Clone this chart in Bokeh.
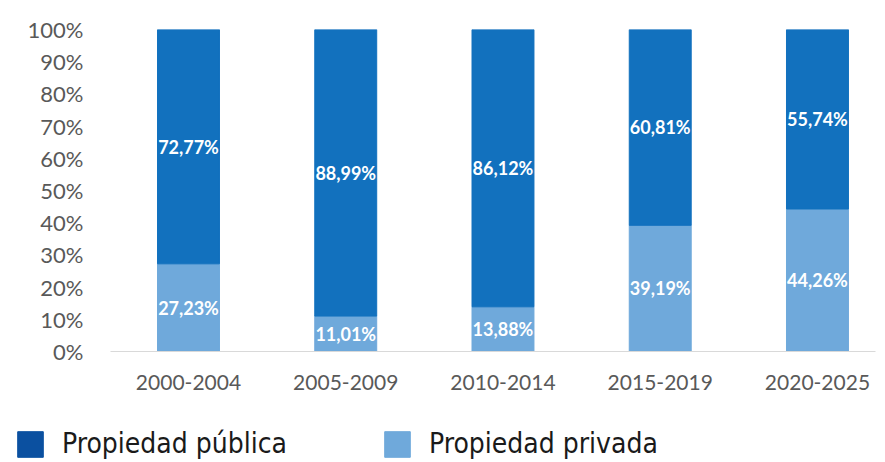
from bokeh.plotting import figure
from bokeh.layouts import column, row
from bokeh.models import ColumnDataSource, Range1d, FixedTicker, PrintfTickFormatter, Legend, LegendItem
from bokeh.core.properties import value
from bokeh.embed import file_html
from bokeh.resources import INLINE

categories = ["2000-2004", "2005-2009", "2010-2014", "2015-2019", "2020-2025"]
publica = [72.77, 88.99, 86.12, 60.81, 55.74]
privada = [27.23, 11.01, 13.88, 39.19, 44.26]
series_names = ["Propiedad pública", "Propiedad privada"]

C_PUB = "#1271BE"
C_PRIV = "#6FA9DB"
C_PUB_LEG = "#0B50A0"
FONT = "Lato"
LEG_FONT = "DejaVu Sans Condensed"

x = [i + 1 for i in range(len(categories))]
src = ColumnDataSource(dict(
    x=x,
    pub=publica,
    priv=privada,
    total=[a + b for a, b in zip(publica, privada)],
    pub_mid=[b + a / 2 for a, b in zip(publica, privada)],
    priv_mid=[b / 2 for b in privada],
    pub_lab=[f"{v:.2f}%".replace(".", ",") for v in publica],
    priv_lab=[f"{v:.2f}%".replace(".", ",") for v in privada],
))

W = 885
p = figure(width=W, height=410, output_backend="svg", toolbar_location=None,
           x_range=Range1d(0.504, 5.369), y_range=Range1d(0, 100),
           min_border_left=110, min_border_right=10, min_border_top=29, min_border_bottom=59)
p.outline_line_color = None
p.xgrid.grid_line_color = None
p.ygrid.grid_line_color = None

p.vbar(x="x", bottom=0, top="priv", width=0.394, color=C_PRIV, source=src)
p.vbar(x="x", bottom="priv", top="total", width=0.394, color=C_PUB, source=src)

p.text(x="x", y="pub_mid", text="pub_lab", source=src, text_color="white",
       text_font=value(FONT), text_font_style="bold", text_font_size="18px",
       text_align="center", text_baseline="middle")
p.text(x="x", y="priv_mid", text="priv_lab", source=src, text_color="white",
       text_font=value(FONT), text_font_style="bold", text_font_size="18px",
       text_align="center", text_baseline="middle")

# y axis
p.yaxis.ticker = FixedTicker(ticks=list(range(0, 101, 10)))
p.yaxis.formatter = PrintfTickFormatter(format="%d%%")
p.yaxis.axis_line_color = None
p.yaxis.major_tick_line_color = None
p.yaxis.minor_tick_line_color = None
p.yaxis.major_label_text_font = FONT
p.yaxis.major_label_text_font_size = "22px"
p.yaxis.major_label_text_color = "#595959"
p.yaxis.major_label_standoff = 21

# x axis
p.xaxis.ticker = FixedTicker(ticks=x)
p.xaxis.major_label_overrides = {i + 1: c for i, c in enumerate(categories)}
p.xaxis.axis_line_color = "#D9D9D9"
p.xaxis.axis_line_width = 1
p.xaxis.major_tick_line_color = None
p.xaxis.minor_tick_line_color = None
p.xaxis.major_label_text_font = FONT
p.xaxis.major_label_text_font_size = "21px"
p.xaxis.major_label_text_color = "#595959"
p.xaxis.major_label_standoff = 17

# legend figure
lf = figure(width=W, height=52, output_backend="svg", toolbar_location=None,
            x_range=Range1d(0, 1), y_range=Range1d(0, 1),
            x_axis_location=None, y_axis_location=None,
            min_border_left=0, min_border_right=0, min_border_top=0, min_border_bottom=0)
lf.outline_line_color = None
lf.xgrid.grid_line_color = None
lf.ygrid.grid_line_color = None
r1 = lf.vbar(x=[-5], top=[-5], width=0.1, color=C_PUB_LEG)
r2 = lf.vbar(x=[-5], top=[-5], width=0.1, color=C_PRIV)

for r, lab, xoff in [(r1, series_names[0], 14), (r2, series_names[1], 381)]:
    leg = Legend(items=[LegendItem(label=lab, renderers=[r])], location=(xoff, 2),
                 glyph_width=32, glyph_height=32, label_text_font=LEG_FONT,
                 label_text_font_size="28px", label_text_color="#1a1a1a",
                 label_standoff=16, padding=0, margin=0, border_line_color=None,
                 background_fill_alpha=0, label_height=32)
    lf.add_layout(leg, "center")

open("out.html", "w").write(file_html(column(p, row(lf), spacing=0), INLINE))
